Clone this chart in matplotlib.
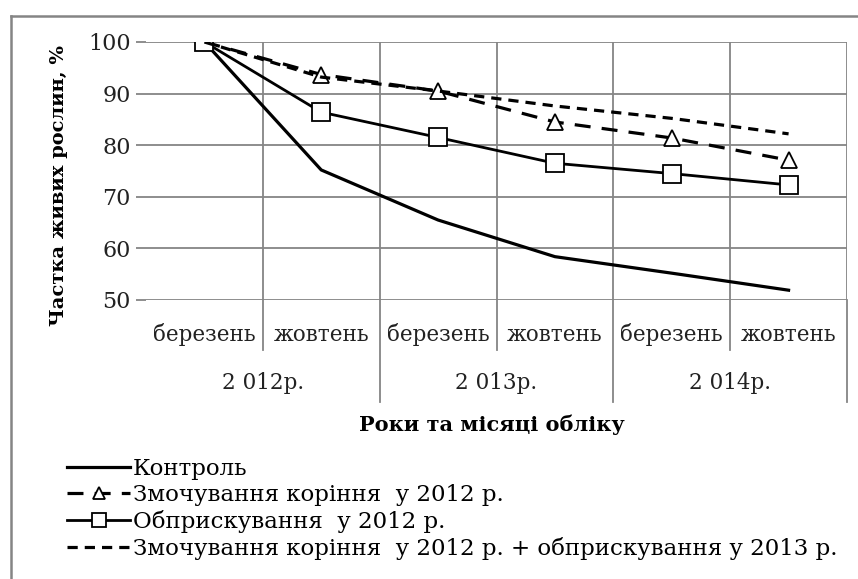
import matplotlib
matplotlib.use('Agg')
import matplotlib.pyplot as plt
import matplotlib.transforms as mtransforms
from matplotlib.lines import Line2D

plt.rcParams['font.family'] = ['DejaVu Serif']

# data
months = ['березень', 'жовтень', 'березень', 'жовтень', 'березень', 'жовтень']
years = ['2 012р.', '2 013р.', '2 014р.']
control = [100, 75.2, 65.5, 58.4, 55.2, 51.9]
soak = [100, 93.7, 90.5, 84.5, 81.4, 77.1]
spray = [100, 86.4, 81.5, 76.5, 74.5, 72.3]
combo = [100, 93.2, 90.5, 87.6, 85.2, 82.2]
names = ['Контроль',
         'Змочування коріння  у 2012 р.',
         'Обприскування  у 2012 р.',
         'Змочування коріння  у 2012 р. + обприскування у 2013 р.']

W, H = 858, 579
fig = plt.figure(figsize=(W / 100, H / 100), dpi=100)
ax = fig.add_axes([146 / W, 1 - 300 / H, (847 - 146) / W, (300 - 42) / H])

x = list(range(1, len(months) + 1))
grid = '#858585'

ax.plot(x, control, color='black', lw=2.3, label=names[0])
ax.plot(x, soak, color='black', lw=2.3, dashes=(5, 3.5), marker='^',
        ms=12, mfc='white', mec='black', mew=1.3, label=names[1])
ax.plot(x, spray, color='black', lw=2.0, marker='s',
        ms=13, mfc='white', mec='black', mew=1.3, label=names[2])
ax.plot(x, combo, color='black', lw=2.3, dashes=(3.2, 2.2), label=names[3])

ax.set_xlim(0.5, len(months) + 0.5)
ax.set_ylim(50, 100)
ax.set_yticks(range(50, 101, 10))
for s in ax.spines.values():
    s.set_visible(False)
ax.tick_params(axis='y', length=7, width=1.3, color=grid, pad=4,
               labelsize=16, labelcolor='#222222')
ax.set_xticks([])

for v in range(50, 101, 10):
    ax.axhline(v, color=grid, lw=1.3, zorder=0)
for b in [i + 0.5 for i in x]:
    ax.axvline(b, color=grid, lw=1.3, zorder=0)

# two-level category axis
trans = mtransforms.blended_transform_factory(ax.transData, ax.transAxes)
for i, m in enumerate(months):
    ax.text(x[i], -35 / 258, m, transform=trans, ha='center', va='center',
            fontsize=15.5, color='#222222')
for i, yr in enumerate(years):
    ax.text(x[2 * i] + 0.5, -83 / 258, yr, transform=trans, ha='center',
            va='center', fontsize=15.5, color='#222222')
for i, b in enumerate([i + 0.5 for i in x]):
    low = -102 / 258 if i % 2 == 1 else -50 / 258
    ax.plot([b, b], [0, low], transform=trans, color=grid, lw=1.3,
            clip_on=False)

fig.text(59 / W, 1 - 185 / H, 'Частка живих рослин, %', rotation=90,
         ha='center', va='center', fontsize=14, fontweight='bold')
fig.text(492 / W, 1 - 425 / H, 'Роки та місяці обліку', ha='center',
         va='center', fontsize=15, fontweight='bold')

ax.legend(loc='upper left', bbox_to_anchor=(67 / W, 1 - 458 / H),
          bbox_transform=fig.transFigure, frameon=False, fontsize=16.5,
          handlelength=2.75, handletextpad=0.13, labelspacing=0.17,
          borderaxespad=0, borderpad=0, markerscale=0.75)

# outer frame (top and left edges only)
fig.add_artist(Line2D([11 / W, 11 / W], [0, 1 - 16 / H], color=grid, lw=1.8,
                      transform=fig.transFigure))
fig.add_artist(Line2D([11 / W, 1], [1 - 16 / H, 1 - 16 / H], color=grid,
                      lw=1.8, transform=fig.transFigure))

fig.savefig('out.png', dpi=100)
